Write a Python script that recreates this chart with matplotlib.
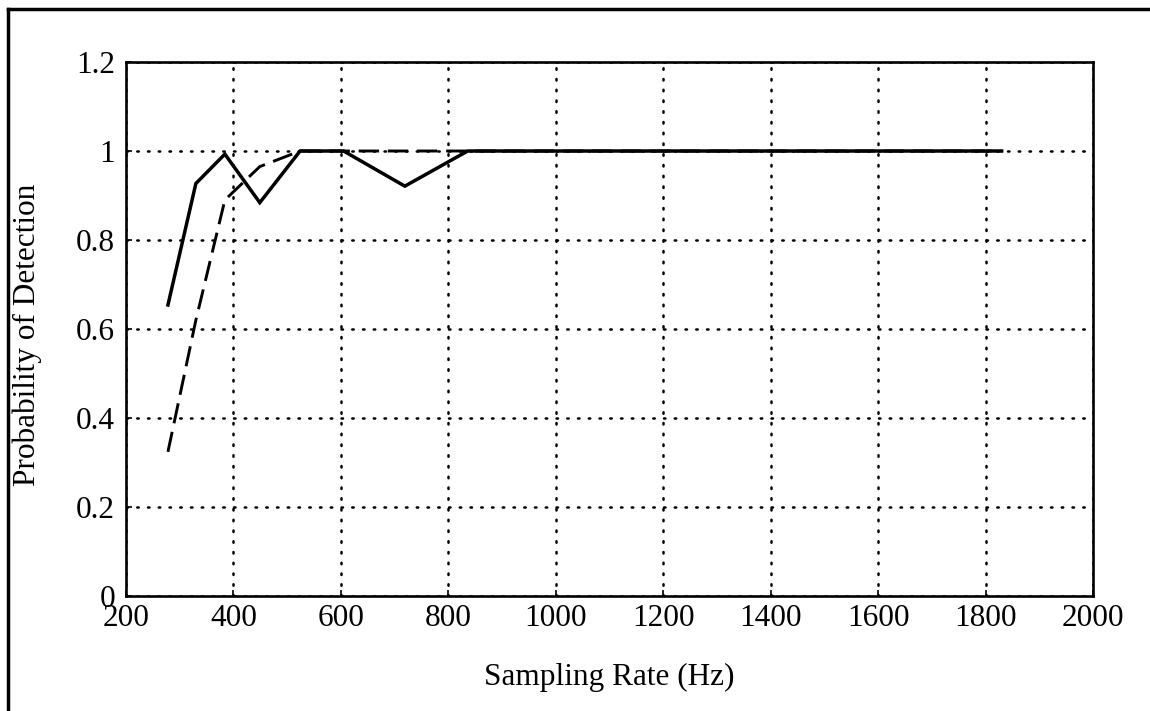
import matplotlib
matplotlib.use("Agg")
import matplotlib.pyplot as plt
from matplotlib.lines import Line2D

# Data
rate_solid = [278, 330, 384, 449, 524, 605, 719, 836, 1000, 1200, 1400, 1600, 1830]
pd_solid = [0.654, 0.927, 0.993, 0.884, 1.0, 1.0, 0.921, 1.0, 1.0, 1.0, 1.0, 1.0, 1.0]

rate_dashed = [278, 330, 384, 449, 524, 605, 719, 836, 1000, 1200, 1400, 1600, 1830]
pd_dashed = [0.324, 0.62, 0.89, 0.965, 1.0, 1.0, 1.0, 1.0, 1.0, 1.0, 1.0, 1.0, 1.0]

xticks = [200, 400, 600, 800, 1000, 1200, 1400, 1600, 1800, 2000]
yticks = [0, 0.2, 0.4, 0.6, 0.8, 1.0, 1.2]
ytick_labels = ["0", "0.2", "0.4", "0.6", "0.8", "1", "1.2"]

plt.rcParams['font.family'] = ['Liberation Serif', 'DejaVu Serif']

fig = plt.figure(figsize=(11.5, 7.11), dpi=100)
ax = fig.add_axes([0.1096, 0.1617, 0.9504 - 0.1096, 0.9128 - 0.1617])

ax.plot(rate_solid, pd_solid, color='black', lw=2.5, solid_joinstyle='miter')
ax.plot(rate_dashed, pd_dashed, color='black', lw=2.1, linestyle=(0, (7, 3)))

ax.set_xlim(200, 2000)
ax.set_ylim(0, 1.2)
ax.set_xticks(xticks)
ax.set_yticks(yticks)
ax.set_yticklabels(ytick_labels)

ax.grid(True, color='black', linestyle=(0, (0.6, 3.7)), linewidth=1.8)
for ln in ax.get_xgridlines() + ax.get_ygridlines():
    ln.set_dash_capstyle('round')

ax.tick_params(direction='in', length=4, width=1.2, labelsize=22.5,
               top=False, right=False)
ax.tick_params(axis='y', pad=8)
ax.tick_params(axis='x', pad=6)
for sp in ax.spines.values():
    sp.set_linewidth(1.9)

ax.set_xlabel("Sampling Rate (Hz)", fontsize=22.5, labelpad=21)
ax.set_ylabel("Probability of Detection", fontsize=22.5)
ax.yaxis.set_label_coords(-0.087, 0.49)

# Page frame (top and left border of the scanned figure)
fig.add_artist(Line2D([0.007, 1.0], [0.988, 0.988], transform=fig.transFigure,
                      color='black', lw=2.5))
fig.add_artist(Line2D([0.007, 0.007], [0.0, 0.988], transform=fig.transFigure,
                      color='black', lw=2.5))

fig.savefig("out.png", dpi=100)
